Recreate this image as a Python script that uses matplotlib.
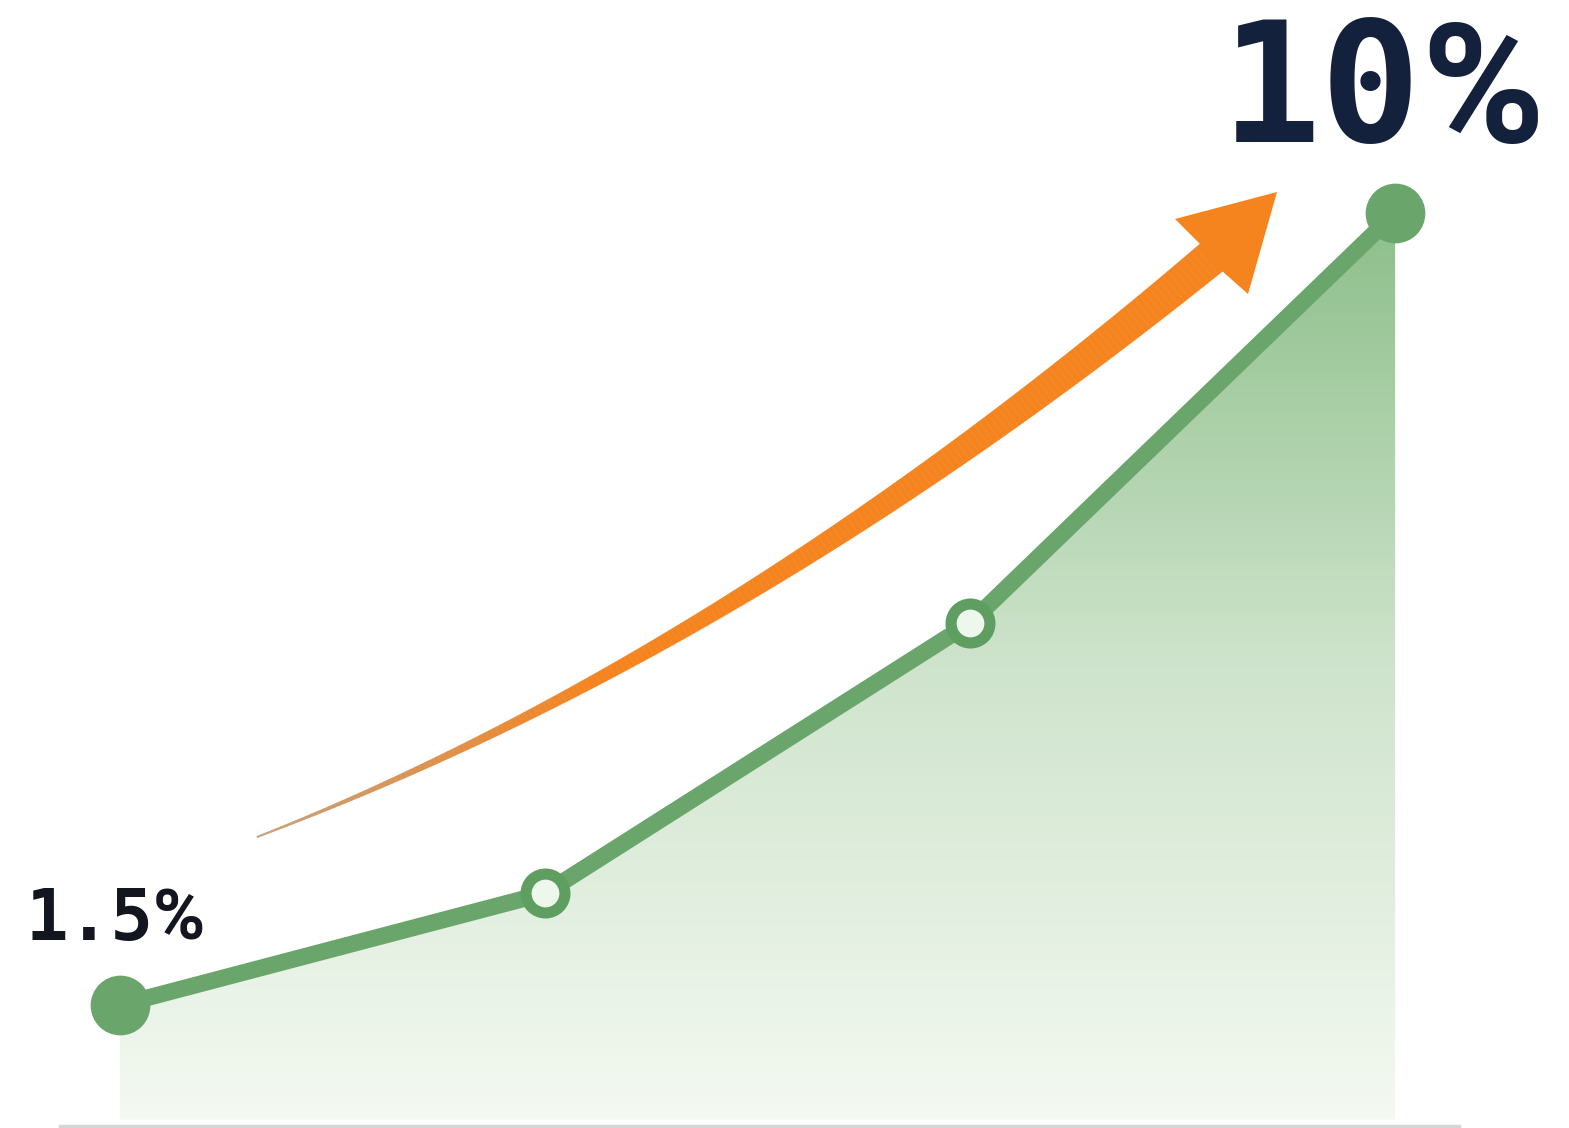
import numpy as np
import matplotlib.pyplot as plt
from matplotlib.colors import LinearSegmentedColormap, to_rgb
from matplotlib.patches import Polygon
from matplotlib.collections import PolyCollection

# Datos: crecimiento en cuatro etapas (%)
etapas = [0, 1, 2, 3]
valores = [1.5, 2.7, 5.6, 10.0]
num_inicio, num_fin = "1.5", "10"

W, H = 1569, 1128
fig = plt.figure(figsize=(W / 100, H / 100), dpi=100)
ax = fig.add_axes([0, 0, 1, 1])
ax.set_xlim(-0.282, 3.409)
ax.set_ylim(0.18, 12.286)
ax.axis('off')

verde = '#6aa56b'
base_fill = 0.27

# Relleno con degradado bajo la linea
cmap = LinearSegmentedColormap.from_list('g', ['#f4f9f2', '#cfe4cc', '#8dbf8a'])
grad = np.linspace(0, 1, 256).reshape(-1, 1)
img = ax.imshow(grad, extent=[etapas[0], etapas[-1], base_fill, valores[-1]],
                origin='lower', aspect='auto', cmap=cmap, zorder=1)
clip = Polygon(list(zip(etapas, valores)) + [(etapas[-1], base_fill), (etapas[0], base_fill)],
               closed=True, transform=ax.transData, facecolor='none', edgecolor='none')
ax.add_patch(clip)
img.set_clip_path(clip)

# Linea base
ax.axhline(0.2, xmin=0.038, xmax=0.93, color='#d3d7d3', lw=2.5, zorder=1)

# Linea principal
ax.plot(etapas, valores, color=verde, lw=12, solid_capstyle='round', zorder=3)
ax.plot([etapas[0], etapas[-1]], [valores[0], valores[-1]], 'o', ms=42,
        color=verde, zorder=4)
ax.plot(etapas[1:3], valores[1:3], 'o', ms=28, mfc='#eef7ec', mec='#5f9e61',
        mew=8, zorder=4)

# Flecha naranja curva (en pixeles de la figura)
p0 = np.array([257, 837.0])
p1 = np.array([735, 653.0])
p2 = np.array([1212, 257.0])
t = np.linspace(0, 1, 200)[:, None]
pts = (1 - t) ** 2 * p0 + 2 * (1 - t) * t * p1 + t ** 2 * p2
d = np.gradient(pts, axis=0)
d /= np.linalg.norm(d, axis=1, keepdims=True)
nrm = np.column_stack([-d[:, 1], d[:, 0]])
w = (1.5 + 34 * t[:, 0] ** 1.15) / 2
left = pts + nrm * w[:, None]
right = pts - nrm * w[:, None]
head = np.array([[1175, 219], [1277, 192], [1248, 294], [1222, 271], [1200, 244]])


def to_fig(a):
    a = np.asarray(a, dtype=float)
    return np.column_stack([a[:, 0] / W, 1 - a[:, 1] / H])


naranja = '#f5841f'
c0, c1 = np.array(to_rgb('#c4a07c')), np.array(to_rgb(naranja))
quads, cols = [], []
for i in range(len(t) - 1):
    quads.append(to_fig([left[i], left[i + 1], right[i + 1], right[i]]))
    k = min(1.0, t[i, 0] / 0.35)
    cols.append(c0 + (c1 - c0) * k)
shaft = PolyCollection(quads, facecolors=cols, edgecolors=cols, linewidths=0.3,
                       transform=fig.transFigure, zorder=2)
fig.add_artist(shaft)
fig.patches.append(Polygon(to_fig(head), closed=True, facecolor=naranja,
                           edgecolor='none', transform=fig.transFigure, zorder=2))

# Etiquetas (numero en monoespaciada, signo % en Roboto)
def etiqueta(num, x, y, dx, dy, size, color):
    ax.annotate(num, (x, y), xytext=(dx, dy), textcoords='offset points',
                ha='right', va='baseline', fontsize=size, fontweight='bold',
                family='DejaVu Sans Mono', color=color, zorder=5)
    ax.annotate('%', (x, y), xytext=(dx, dy), textcoords='offset points',
                ha='left', va='baseline', fontsize=size, fontweight='bold',
                family='Roboto', color=color, zorder=5)


etiqueta(num_inicio, etapas[0], valores[0], 24, 47, 51, '#14161f')
etiqueta(num_fin, etapas[-1], valores[-1], 19, 51, 120, '#13213d')

fig.savefig('out.png', dpi=100, facecolor='white')
